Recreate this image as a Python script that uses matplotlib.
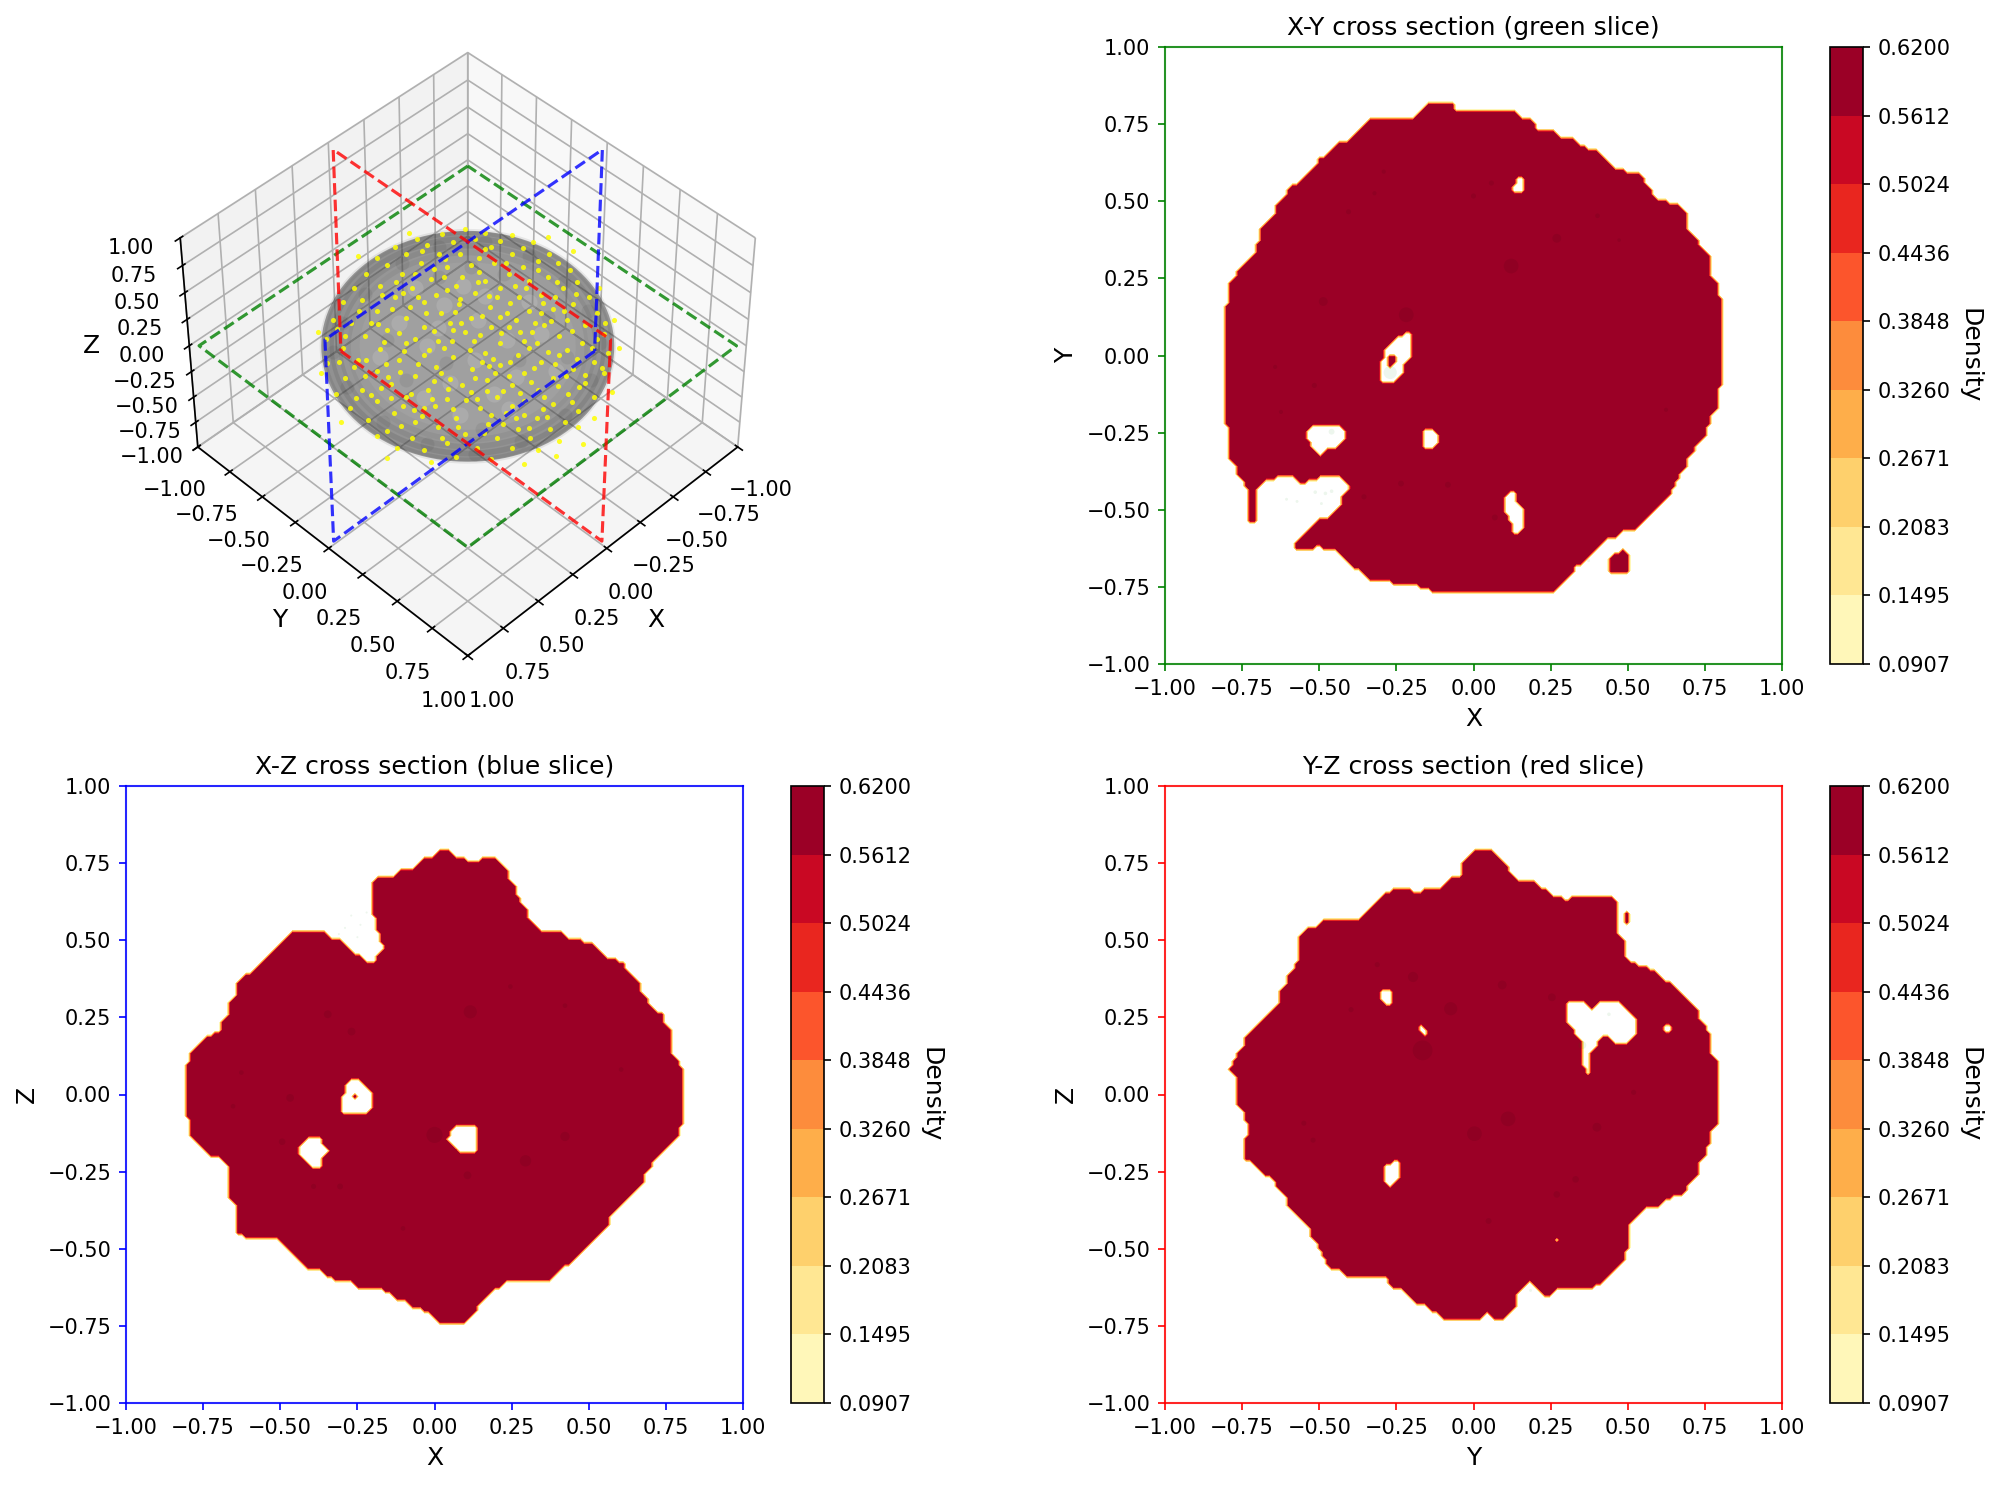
import numpy as np
import matplotlib
matplotlib.use("Agg")
import matplotlib.pyplot as plt
from matplotlib.path import Path
from mpl_toolkits.mplot3d.art3d import Poly3DCollection

FIG_W, FIG_H = 1994, 1485

# contour levels shown on every colorbar
levels = [0.0907, 0.1495, 0.2083, 0.2671, 0.3260, 0.3848, 0.4436, 0.5024, 0.5612, 0.6200]
inside_density = 0.60
ticks = [-1.0, -0.75, -0.5, -0.25, 0.0, 0.25, 0.5, 0.75, 1.0]
# half sizes of the cloud as it shows on screen
cloud_across = 0.744
cloud_up = 0.67
slice_u = [-.965, .965, .965, -.965, -.965]
slice_v = [-.965, -.965, .965, .965, -.965]

# outlines, in data coordinates
xy_outer = [(-.153,.813),(-.070,.813),(-.050,.791),(.135,.791),(.155,.771),(.175,.771),(.214,.728),(.257,.728),
    (.278,.710),(.317,.710),(.360,.672),(.397,.669),(.459,.608),(.479,.605),(.499,.588),(.538,.588),(.582,.526),
    (.591,.509),(.624,.506),(.638,.486),(.661,.486),(.688,.460),(.688,.413),(.728,.374),(.730,.354),(.767,.317),
    (.770,.250),(.790,.231),(.790,.191),(.810,.172),(.810,-.097),(.790,-.114),(.790,-.176),(.770,-.196),(.770,-.216),
    (.750,-.236),(.750,-.256),(.710,-.315),(.691,-.339),(.688,-.362),(.671,-.382),(.667,-.401),(.648,-.421),
    (.644,-.441),(.519,-.564),(.479,-.567),(.459,-.587),(.437,-.590),(.360,-.666),(.327,-.686),(.323,-.706),
    (.254,-.768),(-.136,-.768),(-.156,-.749),(-.255,-.746),(-.275,-.729),(-.335,-.729),(-.374,-.689),(-.394,-.686),
    (-.454,-.627),(-.487,-.624),(-.507,-.613),(-.527,-.627),(-.586,-.624),(-.503,-.534),(-.476,-.527),(-.427,-.481),
    (-.425,-.458),(-.405,-.435),(-.405,-.421),(-.434,-.386),(-.497,-.386),(-.513,-.405),(-.540,-.408),(-.553,-.425),
    (-.593,-.386),(-.632,-.386),(-.656,-.405),(-.679,-.405),(-.705,-.437),(-.709,-.541),(-.718,-.550),(-.728,-.541),
    (-.728,-.437),(-.747,-.419),(-.747,-.399),(-.767,-.379),(-.769,-.355),(-.788,-.339),(-.788,-.236),(-.811,-.216),
    (-.811,.155),(-.788,.175),(-.788,.235),(-.769,.254),(-.769,.274),(-.709,.334),(-.709,.356),(-.689,.374),
    (-.689,.416),(-.646,.460),(-.646,.480),(-.606,.519),(-.606,.546),(-.576,.549),(-.507,.616),(-.507,.645),
    (-.476,.648),(-.438,.688),(-.414,.689),(-.335,.771),(-.189,.771)]
xy_islands = [[(.479,-.629),(.505,-.649),(.505,-.706),(.433,-.706),(.443,-.686),(.443,-.660)],
    [(-.269,-.001),(-.242,-.001),(-.275,-.044),(-.282,-.024)]]
xy_holes = [[(.155,.583),(.164,.570),(.164,.530),(.155,.522),(.128,.526),(.119,.546)],
    [(-.209,.080),(-.200,.066),(-.200,-.011),(-.222,-.033),(-.222,-.053),(-.255,-.083),(-.295,-.083),(-.306,-.070),
     (-.306,-.017),(-.284,.003),(-.284,.029),(-.251,.060)],
    [(-.516,-.223),(-.434,-.223),(-.421,-.236),(-.421,-.273),(-.454,-.305),(-.476,-.305),(-.496,-.325),(-.546,-.269),(-.546,-.256)],
    [(-.156,-.242),(-.130,-.242),(-.119,-.256),(-.119,-.295),(-.130,-.305),(-.156,-.305),(-.165,-.289),(-.165,-.256)],
    [(.108,-.445),(.135,-.445),(.142,-.478),(.164,-.501),(.164,-.554),(.135,-.584),(.122,-.574),(.119,-.534),(.102,-.514),(.102,-.454)]]
xy_spots = [(-.218,.132,50),(.122,.290,50),(-.487,.175,18),(.270,.380,18),(0,.517,6),(.058,.559,6),(-.405,.466,6),
    (-.516,-.097,6),(-.235,-.415,8),(-.083,-.419,8),(.069,-.525,8),(-.355,-.458,6),(.402,.453,5),(.624,-.176,4),
    (.472,.374,3),(-.624,-.183,4),(-.643,-.037,4),(-.321,.526,4),(-.291,.596,4)]
xy_pale = [(-.460,-.247,8),(-.270,-.055,40),(-.460,-.440,3),(-.480,-.447,3),(-.513,-.443,3),(-.493,-.480,2),(-.572,-.473,2),(-.606,-.466,2),(.373,-.665,2)]

xz_outer = [(.011,.790),(.050,.790),(.070,.770),(.093,.770),(.114,.749),(.143,.749),(.156,.770),(.193,.770),(.242,.720),
    (.242,.696),(.262,.676),(.262,.656),(.281,.637),(.281,.614),(.301,.594),(.301,.574),(.354,.525),(.413,.525),(.433,.506),
    (.473,.506),(.493,.486),(.513,.485),(.555,.445),(.576,.444),(.594,.424),(.618,.421),(.625,.399),(.664,.360),(.667,.336),
    (.687,.317),(.687,.293),(.737,.261),(.744,.237),(.766,.215),(.766,.132),(.787,.112),(.787,.095),(.807,.075),(.807,-.093),
    (.787,-.113),(.787,-.135),(.708,-.212),(.704,-.239),(.684,-.258),(.682,-.281),(.563,-.397),(.563,-.421),(.374,-.606),
    (.232,-.606),(.209,-.626),(.189,-.629),(.140,-.679),(.140,-.699),(.093,-.748),(.030,-.748),(-.013,-.705),(-.036,-.705),
    (-.055,-.688),(-.075,-.686),(-.095,-.666),(-.115,-.666),(-.135,-.646),(-.155,-.646),(-.174,-.626),(-.254,-.626),
    (-.273,-.606),(-.313,-.606),(-.333,-.586),(-.353,-.586),(-.375,-.565),(-.415,-.565),(-.518,-.463),(-.617,-.463),
    (-.646,-.437),(-.646,-.358),(-.666,-.338),(-.666,-.232),(-.699,-.202),(-.719,-.202),(-.789,-.133),(-.789,-.073),
    (-.808,-.073),(-.808,.092),(-.789,.112),(-.789,.134),(-.740,.184),(-.690,.211),(-.687,.237),(-.667,.257),(-.667,.297),
    (-.646,.317),(-.646,.360),(-.617,.385),(-.597,.385),(-.458,.525),(-.353,.525),(-.333,.506),(-.313,.506),(-.256,.449),
    (-.234,.446),(-.207,.422),(-.190,.426),(-.181,.455),(-.164,.475),(-.181,.508),(-.185,.565),(-.203,.581),(-.203,.680),
    (-.174,.709),(-.132,.709),(-.112,.729),(-.071,.729),(-.032,.769),(-.009,.770)]
xz_islands = [[(-.265,-.009),(-.256,-.001),(-.247,-.009),(-.256,-.017)]]
xz_holes = [[(-.254,.059),(-.201,.010),(-.201,-.047),(-.214,-.061),(-.296,-.061),(-.306,-.047),(-.306,-.007),(-.285,.006),(-.285,.032)],
    [(-.412,-.139),(-.373,-.139),(-.343,-.179),(-.366,-.206),(-.370,-.243),(-.396,-.243),(-.445,-.183)],
    [(.070,-.100),(.129,-.100),(.143,-.113),(.143,-.173),(.132,-.183),(.070,-.183),(.037,-.142)]]
xz_spots = [(0,-.131,60),(.116,.268,40),(.295,-.215,30),(.423,-.136,20),(-.346,.260,14),(-.269,.204,14),(-.468,-.011,14),
    (.107,-.262,14),(-.494,-.153,10),(.246,.350,5),(.423,.288,5),(.605,.081,5),(-.653,-.038,5),(-.626,.071,5),(-.392,-.298,6),(-.306,-.298,8),(-.102,-.434,5)]
xz_pale = [(-.270,.580,1),(-.240,.550,1),(-.290,.540,1),(-.250,.510,1),(-.310,.520,1),(-.220,.590,1)]

yz_outer = [(.009,.791),(.053,.791),(.151,.691),(.194,.688),(.214,.668),(.237,.665),(.257,.646),(.278,.646),(.300,.626),
    (.333,.646),(.439,.646),(.466,.622),(.466,.516),(.486,.499),(.486,.452),(.519,.423),(.578,.406),(.618,.368),(.638,.365),
    (.730,.275),(.730,.251),(.770,.194),(.770,.132),(.790,.112),(.790,-.093),(.770,-.112),(.770,-.152),(.750,-.172),
    (.750,-.196),(.730,-.214),(.730,-.254),(.688,-.294),(.684,-.320),(.658,-.324),(.638,-.341),(.614,-.344),(.598,-.364),
    (.558,-.364),(.505,-.414),(.505,-.499),(.486,-.519),(.486,-.540),(.419,-.609),(.380,-.626),(.274,-.626),(.247,-.648),
    (.230,-.648),(.181,-.602),(.144,-.638),(.142,-.679),(.093,-.728),(.069,-.728),(.042,-.705),(.016,-.728),(-.093,-.728),
    (-.116,-.705),(-.136,-.705),(-.156,-.685),(-.173,-.685),(-.235,-.626),(-.255,-.626),(-.295,-.585),(-.414,-.585),
    (-.437,-.565),(-.458,-.562),(-.484,-.536),(-.487,-.516),(-.507,-.496),(-.507,-.476),(-.527,-.456),(-.527,-.437),
    (-.606,-.357),(-.606,-.333),(-.646,-.294),(-.648,-.271),(-.683,-.258),(-.712,-.221),(-.747,-.216),(-.747,-.148),
    (-.728,-.130),(-.728,-.090),(-.747,-.073),(-.747,-.056),(-.769,-.033),(-.769,.053),(-.791,.089),(-.769,.112),(-.769,.132),
    (-.747,.152),(-.747,.175),(-.626,.294),(-.626,.337),(-.606,.357),(-.606,.377),(-.586,.397),(-.566,.437),(-.566,.516),
    (-.553,.527),(-.520,.545),(-.500,.548),(-.476,.569),(-.374,.569),(-.295,.648),(-.255,.668),(-.209,.668),(-.189,.646),
    (-.156,.668),(-.110,.668),(-.070,.708),(-.044,.710),(-.041,.743)]
yz_islands = [[(.496,.589),(.508,.569),(.496,.549),(.486,.569)]]
yz_holes = [[(-.295,.344),(-.269,.344),(-.262,.333),(-.262,.294),(-.271,.284),(-.304,.315),(-.306,.333)],
    [(.307,.304),(.353,.304),(.373,.282),(.393,.282),(.415,.304),(.475,.304),(.525,.254),(.525,.188),(.495,.161),(.459,.161),
     (.437,.185),(.413,.185),(.402,.172),(.402,.152),(.382,.135),(.382,.073),(.373,.064),(.360,.086),(.347,.112),(.347,.179),
     (.327,.198),(.327,.212),(.304,.232)],
    [(-.251,-.205),(-.242,-.212),(-.242,-.267),(-.275,-.302),(-.284,-.291),(-.284,-.232)],
    [(-.179,.212),(-.169,.221),(-.143,.192),(-.154,.183)],
    [(.609,.214),(.627,.225),(.647,.214),(.627,.201)],
    [(.263,-.475),(.274,-.463),(.284,-.475),(.274,-.487)]]
yz_spots = [(-.165,.143,90),(.112,-.079,50),(.003,-.127,50),(-.074,.278,40),(-.196,.381,24),(.093,.355,18),(.400,-.106,18),
    (.254,.315,14),(.270,-.324,10),(.331,-.275,10),(.049,-.410,8),(.519,.007,6),(-.550,-.093,6),(-.520,-.148,6),(-.312,.421,6),(-.397,.275,6)]
yz_pale = [(.439,.260,3),(.353,.160,14),(.185,-.635,2)]

# yellow dots picked from the 3D view: across / up on screen, in cloud half sizes
yellow_view = [(-.02,1.02),(.12,.98),(-.18,.97),(.3,.96),(-.35,.93),(.45,.9),(-.5,.86),(.05,.93),(.22,.91),(-.1,.9),
    (-.28,.88),(.38,.85),(.56,.8),(-.62,.76),(-.42,.8),(.62,.72),(.12,.84),(-.05,.8),(.3,.8),(-.2,.8),(-.55,.7),(.48,.74),
    (.7,.66),(-.7,.62),(.18,.72),(.02,.7),(-.32,.72),(.38,.68),(-.14,.68),(-.45,.62),(.55,.6),(.75,.55),(-.78,.5),(.28,.62),
    (-.04,.6),(.12,.56),(-.25,.58),(-.6,.52),(.42,.56),(.65,.5),(-.38,.5),(.83,.42),(-.85,.38),(-.14,.48),(.05,.46),(.22,.5),
    (.5,.44),(-.5,.42),(-.72,.4),(.35,.42),(.72,.36),(-.3,.38),(-.06,.36),(.15,.34),(.58,.32),(-.62,.3),(.88,.28),(-.92,.22),
    (.42,.3),(.27,.28),(-.18,.28),(-.42,.24),(.68,.22),(-.8,.2),(.02,.24),(.8,.18),(-.3,.16),(.52,.18),(.16,.16),(-.1,.14),
    (-.55,.14),(.36,.12),(.93,.1),(-.97,.06),(-.7,.08),(.62,.08),(-.2,.04),(.04,.04),(.22,.02),(-.42,.02),(.47,.02),(.78,.02),
    (-.85,-.02),(-.6,-.03),(.96,-.06),(-.3,-.08),(.12,-.06),(.34,-.08),(.62,-.08),(-.1,-.1),(-.75,-.12),(-.47,-.12),(.86,-.14),
    (.5,-.14),(-.96,-.15),(.22,-.17),(-.22,-.18),(.03,-.2),(.72,-.2),(-.62,-.22),(.38,-.24),(-.36,-.26),(.93,-.24),(-.84,-.28),
    (.58,-.28),(-.12,-.29),(.13,-.3),(.8,-.32),(-.52,-.33),(.3,-.34),(-.72,-.38),(-.27,-.38),(.48,-.38),(.02,-.4),(.68,-.42),
    (-.9,-.42),(.2,-.44),(-.42,-.44),(-.14,-.46),(.86,-.44),(.38,-.48),(-.62,-.48),(.58,-.5),(-.3,-.54),(.08,-.54),(-.8,-.54),
    (.75,-.56),(.26,-.58),(-.5,-.58),(-.08,-.62),(.47,-.62),(-.68,-.64),(.66,-.66),(-.36,-.66),(.14,-.68),(-.2,-.7),(.34,-.72),
    (.56,-.72),(-.55,-.74),(-.02,-.76),(.75,-.7),(.2,-.8),(-.38,-.8),(.42,-.8),(-.62,-.78),(-.14,-.84),(.06,-.88),(.62,-.82),
    (.3,-.88),(-.3,-.9),(-.48,-.88),(.48,-.9),(-.08,-.96),(.16,-.98),(-.25,-1.0),(.38,-1.02),(.6,-.95),(-.55,-.97),(.78,-.85),
    (-.4,.98),(.55,.95),(.72,.82),(-.75,.78),(.9,.5),(-1.02,.12),(1.03,-.02),(1.0,.22),(-1.0,-.24),(.98,-.4),(.86,-.62),(-.86,-.66),
    (.08,.76),(-.36,.62),(.32,.52),(-.08,.52),(.6,.42),(-.22,.44),(.1,.26),(-.52,.32),(.5,.28),(.28,.16),(-.36,.06),(.1,-.14),
    (-.16,-.02),(.42,-.02),(.68,-.04),(-.56,-.16),(.28,-.26),(-.04,-.34),(.52,-.44),(-.22,-.52),(.16,-.6),(-.44,-.52),(.38,-.6),
    (-.7,-.26),(.76,-.36),(-.12,.2),(-.02,.12),(.2,.42),(.66,.3),(-.44,.46),(.06,-.46),(-.34,-.16),(.44,.12),(-.66,.2),(.88,.06),
    (-.613,.187),(-.231,.667),(.147,.433),(.513,.373),(-.087,.291),(.327,.227),(-.473,.107),(.083,.091),(.711,.127),(-.267,-.037),
    (.173,-.113),(.547,-.051),(-.541,-.271),(-.183,-.233),(.243,-.389),(.617,-.347),(-.387,-.421),(.047,-.283),(.453,-.197),(-.777,-.187),
    (.801,-.253),(-.661,-.427),(-.103,-.547),(.303,-.517),(.537,-.613),(-.311,-.607),(.107,-.749),(-.451,-.689),(.243,-.673),(-.173,-.793),
    (.417,-.713),(-.693,-.127),(-.397,.337),(.263,.717),(-.163,.593),(.397,.503),(.079,.643),(-.587,.437),(.613,.553),(-.317,.827),
    (.157,.857),(-.491,.553),(.483,.657),(-.053,.403),(.289,.373),(.737,.447),(-.743,.303),(-.233,.127),(.571,.217),(.017,-.037),
    (.289,-.143),(-.433,-.043),(.743,-.113),(-.137,-.377),(.431,-.313),(-.593,-.367),(.183,-.233),(-.011,-.467),(.671,-.263),(-.837,.087),
    (.847,-.023),(-.283,.283),(.227,.109),(-.049,.197),(.383,.037),(-.571,.031),(.593,-.161),(-.229,-.307),(.129,-.393),(-.363,-.553),
    (.331,-.623),(-.067,-.703),(.513,-.547),(-.523,-.451),(.709,-.487),(-.761,-.453),(-.877,-.137),(.913,-.191),(.937,.193),(-.893,.143),
    (-.157,.757),(.067,.557),(.221,.247),(-.343,.427),(.457,.197),(-.107,.043),(.143,-.173),(-.461,-.229),(.357,-.407),(-.241,-.463)]

# coarse light and dark blotches on the grey body
light_blotches = [(-.03,.52),(.12,.43),(-.16,.35),(.27,.05),(.05,-.12),(-.28,.0),(.33,-.27),(-.12,-.32),(.5,.1),(-.47,.2),
    (.28,-.55),(-.3,-.45),(.6,-.22),(-.6,-.1),(.07,.22),(.42,.38),(-.36,.5),(.18,-.42),(-.05,-.6),(-.2,.15)]
dark_blotches = [(-.7,.45),(-.45,.72),(-.2,.86),(.12,.9),(.42,.78),(.66,.55),(.82,.3),(.9,.02),(.84,-.3),(.66,-.6),(.36,-.82),
    (.05,-.93),(-.28,-.85),(-.58,-.66),(-.82,-.36),(-.92,-.05),(-.86,.2),(.25,.62),(-.2,.6),(.55,.25),(-.55,.05),(.35,-.12),
    (-.15,-.15),(.1,-.72),(-.42,-.3),(.68,-.1),(.02,.68)]

# rim shading of the grey body: ring size, line width, opacity
rim_rings = [(0.99, 3, 0.07), (0.95, 5, 0.09), (0.9, 6, 0.08), (0.84, 6, 0.05), (0.78, 6, 0.03)]

panels = [
    ("X-Y cross section (green slice)", "X", "Y", "green", xy_outer, xy_islands, xy_holes, xy_spots, xy_pale, (1165, 47)),
    ("X-Z cross section (blue slice)", "X", "Z", "blue", xz_outer, xz_islands, xz_holes, xz_spots, xz_pale, (126, 786)),
    ("Y-Z cross section (red slice)", "Y", "Z", "red", yz_outer, yz_islands, yz_holes, yz_spots, yz_pale, (1165, 786)),
]


def pixelRect(left, top, width, height):
    return [left / FIG_W, 1 - (top + height) / FIG_H, width / FIG_W, height / FIG_H]


def densityField(gx, gy, outer, islands, holes):
    # islands are painted last since one of them sits inside a hole
    pts = np.column_stack([gx.ravel(), gy.ravel()])
    inside = Path(outer).contains_points(pts)
    for hole in holes:
        inside &= ~Path(hole).contains_points(pts)
    for island in islands:
        inside |= Path(island).contains_points(pts)
    return np.where(inside, inside_density, 0.0).reshape(gx.shape)


def drawPanel(fig, title, xname, yname, color, outer, islands, holes, spots, pale, corner):
    ax = fig.add_axes(pixelRect(corner[0], corner[1], 617, 617))
    gx, gy = np.meshgrid(np.linspace(-1, 1, 160), np.linspace(-1, 1, 160))
    cf = ax.contourf(gx, gy, densityField(gx, gy, outer, islands, holes), levels=levels, cmap="YlOrRd")
    sp = np.array(spots)
    ax.scatter(sp[:, 0], sp[:, 1], s=sp[:, 2], c="black", alpha=0.07, linewidths=0)
    pa = np.array(pale)
    ax.scatter(pa[:, 0], pa[:, 1], s=pa[:, 2], c="green", alpha=0.07, linewidths=0)
    ax.set_xlim(-1, 1)
    ax.set_ylim(-1, 1)
    ax.set_xticks(ticks)
    ax.set_yticks(ticks)
    ax.set_xlabel(xname, fontsize=12)
    ax.set_ylabel(yname, fontsize=12)
    ax.set_title(title, fontsize=12)
    ax.tick_params(color=color)
    for spine in ax.spines.values():
        spine.set_edgecolor(color)
        spine.set_alpha(0.85)
        spine.set_linewidth(1.0)
    cax = fig.add_axes(pixelRect(corner[0] + 665, corner[1], 33, 617))
    cbar = fig.colorbar(cf, cax=cax, ticks=levels, format="%.4f")
    cbar.set_label("Density", rotation=270, labelpad=15, fontsize=12)


def toCloud(view_pts, across, up):
    # screen picks to points on a plane through the origin facing the viewer
    picks = np.array(view_pts)
    return cloud_across * np.outer(picks[:, 0], across) + cloud_up * np.outer(picks[:, 1], up)


def draw3d(fig):
    ax = fig.add_axes(pixelRect(153.5, 48, 612, 612), projection="3d")
    ax.computed_zorder = False
    ax.view_init(elev=45, azim=45)
    across = np.array([-0.7071, 0.7071, 0.0])
    up = np.array([-0.5, -0.5, 0.7071])

    # grey body of the cloud as one outline, rings on top for the darker rim
    ang = np.linspace(0, 2 * np.pi, 121)
    outline = np.column_stack([np.cos(ang), np.sin(ang)])
    body = Poly3DCollection([toCloud(outline, across, up)], facecolors=(0.3, 0.3, 0.3, 0.5), edgecolors="none", zorder=1)
    ax.add_collection3d(body)
    for size, width, opacity in rim_rings:
        ring = toCloud(outline * size, across, up)
        ax.plot(ring[:, 0], ring[:, 1], ring[:, 2], color="black", linewidth=width, alpha=opacity, zorder=1.2)

    pos = toCloud(light_blotches, across, up)
    ax.scatter(pos[:, 0], pos[:, 1], pos[:, 2], c="white", s=60, alpha=0.12, linewidths=0, depthshade=False, zorder=1.5)
    pos = toCloud(dark_blotches, across, up)
    ax.scatter(pos[:, 0], pos[:, 1], pos[:, 2], c="black", s=45, alpha=0.06, linewidths=0, depthshade=False, zorder=1.5)
    pos = toCloud(yellow_view, across, up)
    ax.scatter(pos[:, 0], pos[:, 1], pos[:, 2], c="yellow", s=6, alpha=0.85, linewidths=0, depthshade=False, zorder=2)

    zero = [0, 0, 0, 0, 0]
    ax.plot(slice_u, slice_v, zero, "--", color="green", alpha=0.8, linewidth=1.5, zorder=3)
    ax.plot(slice_u, zero, slice_v, "--", color="blue", alpha=0.8, linewidth=1.5, zorder=3)
    ax.plot(zero, slice_u, slice_v, "--", color="red", alpha=0.8, linewidth=1.5, zorder=3)

    ax.set_xlim(-1, 1)
    ax.set_ylim(-1, 1)
    ax.set_zlim(-1, 1)
    ax.set_xticks(ticks)
    ax.set_yticks(ticks)
    ax.set_zticks(ticks)
    ax.tick_params(axis="both", pad=5)
    ax.set_xlabel("X", fontsize=12, labelpad=6)
    ax.set_ylabel("Y", fontsize=12, labelpad=6)
    ax.set_zlabel("Z", fontsize=12, labelpad=6)


fig = plt.figure(figsize=(FIG_W / 150, FIG_H / 150), dpi=150)
draw3d(fig)
for p in panels:
    drawPanel(fig, *p)
fig.savefig("out.png", dpi=150)
